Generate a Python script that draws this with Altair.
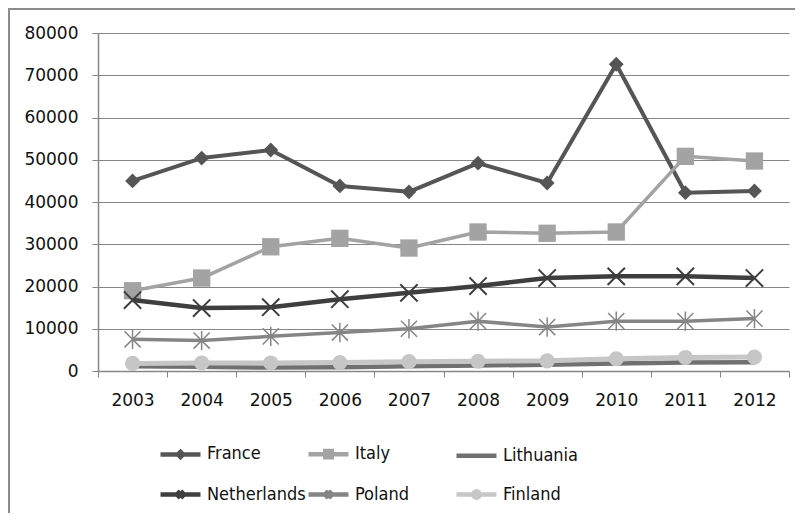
import altair as alt
import pandas as pd

years = [2003, 2004, 2005, 2006, 2007, 2008, 2009, 2010, 2011, 2012]
countries = ["France", "Italy", "Lithuania", "Netherlands", "Poland", "Finland"]
france = [45000, 50400, 52300, 43800, 42400, 49200, 44500, 72600, 42200, 42600]
italy = [19000, 22000, 29400, 31400, 29100, 32900, 32600, 32900, 50800, 49700]
lithuania = [1100, 1000, 800, 900, 1100, 1300, 1500, 1800, 2000, 2100]
netherlands = [16800, 14900, 15100, 17000, 18500, 20100, 22000, 22400, 22400, 22000]
poland = [7500, 7200, 8200, 9100, 10000, 11800, 10400, 11800, 11800, 12400]
finland = [1800, 1900, 1900, 2000, 2200, 2300, 2400, 2900, 3200, 3300]
series = [france, italy, lithuania, netherlands, poland, finland]
colors = ["#555555", "#a3a3a3", "#707070", "#3e3e3e", "#858585", "#c6c6c6"]
line_widths = [4, 3.5, 4.5, 4.5, 3.5, 5]

rows = []
for c, vals in zip(countries, series):
    for y, v in zip(years, vals):
        rows.append({"country": c, "year": y, "value": v})
df = pd.DataFrame(rows)

GRAY = "#868686"
AXIS_FONT = "DejaVu Sans"
LEG_FONT = "DejaVu Sans Condensed, Liberation Sans, sans-serif"

tick_values = [y - 0.5 for y in years] + [years[-1] + 0.5]

x_enc = alt.X(
    "year:Q",
    scale=alt.Scale(domain=[years[0] - 0.5, years[-1] + 0.5], nice=False, zero=False),
    axis=alt.Axis(
        values=tick_values,
        labelExpr="datum.value < %d ? '' + (datum.value + 0.5) : ''" % years[-1],
        labelOffset=34.55,
        labelFlush=False,
        labelOverlap=False,
        labelBound=False,
        grid=False,
        tickSize=6,
        tickColor=GRAY,
        domainColor=GRAY,
        domainWidth=1.5,
        labelFont=AXIS_FONT,
        labelFontSize=17,
        labelColor="#111111",
        labelPadding=15,
        title=None,
    ),
)
y_enc = alt.Y(
    "value:Q",
    scale=alt.Scale(domain=[0, 80000], nice=False),
    axis=alt.Axis(
        values=list(range(0, 80001, 10000)),
        format="d",
        grid=True,
        gridColor=GRAY,
        gridWidth=1,
        tickSize=6,
        tickColor=GRAY,
        domainColor=GRAY,
        domainWidth=1.5,
        labelFont=AXIS_FONT,
        labelFontSize=17,
        labelColor="#111111",
        labelPadding=14,
        title=None,
    ),
)

legend_paths = [
    "M-1,0L1,0M0,-0.13L0.13,0L0,0.13L-0.13,0Z",
    "M-1,0L1,0M-0.16,-0.16L0.16,-0.16L0.16,0.16L-0.16,0.16Z",
    "M-1,0L1,0",
    "M-1,0L1,0M-0.17,-0.17L0.17,0.17M-0.17,0.17L0.17,-0.17",
    "M-1,0L1,0M-0.17,-0.17L0.17,0.17M-0.17,0.17L0.17,-0.17M0,-0.2L0,0.2",
    "M-1,0L1,0M0.16,0A0.16,0.16 0 1 1 -0.16,0A0.16,0.16 0 1 1 0.16,0Z",
]


def make_legend():
    return alt.Legend(
        title=None,
        orient="none",
        legendX=60,
        legendY=398,
        direction="horizontal",
        columns=3,
        gridAlign="all",
        columnPadding=-17,
        rowPadding=5,
        padding=0,
        symbolSize=1600,
        symbolStrokeWidth=4.5,
        symbolOpacity=1,
        labelOffset=4,
        labelFont=LEG_FONT,
        labelFontSize=18,
        labelColor="#111111",
        labelLimit=300,
    )


marker_specs = {
    "France": dict(shape="diamond", size=220, filled=True, strokeWidth=0),
    "Italy": dict(shape="square", size=300, filled=True, strokeWidth=0),
    "Netherlands": dict(shape="M-1,-1L1,1M-1,1L1,-1", size=300, filled=False, strokeWidth=2),
    "Poland": dict(shape="M-1,-1L1,1M-1,1L1,-1M0,-1.2L0,1.2", size=260, filled=False, strokeWidth=1.5),
    "Finland": dict(shape="circle", size=230, filled=True, strokeWidth=0),
}

base = alt.Chart(df)
layers = []

frame = alt.Chart(pd.DataFrame({"a": [0]})).mark_rect(
    fillOpacity=0, stroke="#8c8c8c", strokeWidth=2
).encode(
    x=alt.value(-89), x2=alt.value(900), y=alt.value(-24), y2=alt.value(700)
)
layers.append(frame)

for c, col, lw in zip(countries, colors, line_widths):
    sub = base.transform_filter(alt.datum.country == c)
    layers.append(
        sub.mark_line(strokeWidth=lw, strokeJoin="round", color=col).encode(
            x=x_enc, y=y_enc
        )
    )
    if c in marker_specs:
        spec = marker_specs[c]
        layers.append(
            sub.mark_point(
                shape=spec["shape"],
                size=spec["size"],
                filled=spec["filled"],
                strokeWidth=spec["strokeWidth"],
                color=col,
                opacity=1,
            ).encode(x=x_enc, y=y_enc)
        )

# legend-only layer: no rows pass the filter, the legend comes from the scales
legend_layer = base.transform_filter("false").mark_point(filled=True).encode(
    x=x_enc,
    y=y_enc,
    color=alt.Color("country:N", scale=alt.Scale(domain=countries, range=colors), legend=make_legend()),
    stroke=alt.Stroke("country:N", scale=alt.Scale(domain=countries, range=colors), legend=make_legend()),
    shape=alt.Shape("country:N", scale=alt.Scale(domain=countries, range=legend_paths), legend=make_legend()),
)
layers.append(legend_layer)

chart = alt.layer(*layers).properties(
    width=691,
    height=338,
    padding={"left": 90, "top": 25, "right": 6, "bottom": 142},
    autosize=alt.AutoSizeParams(type="none"),
).configure_view(stroke=None)

chart.save("out.html", embed_options={"renderer": "svg", "actions": False})
